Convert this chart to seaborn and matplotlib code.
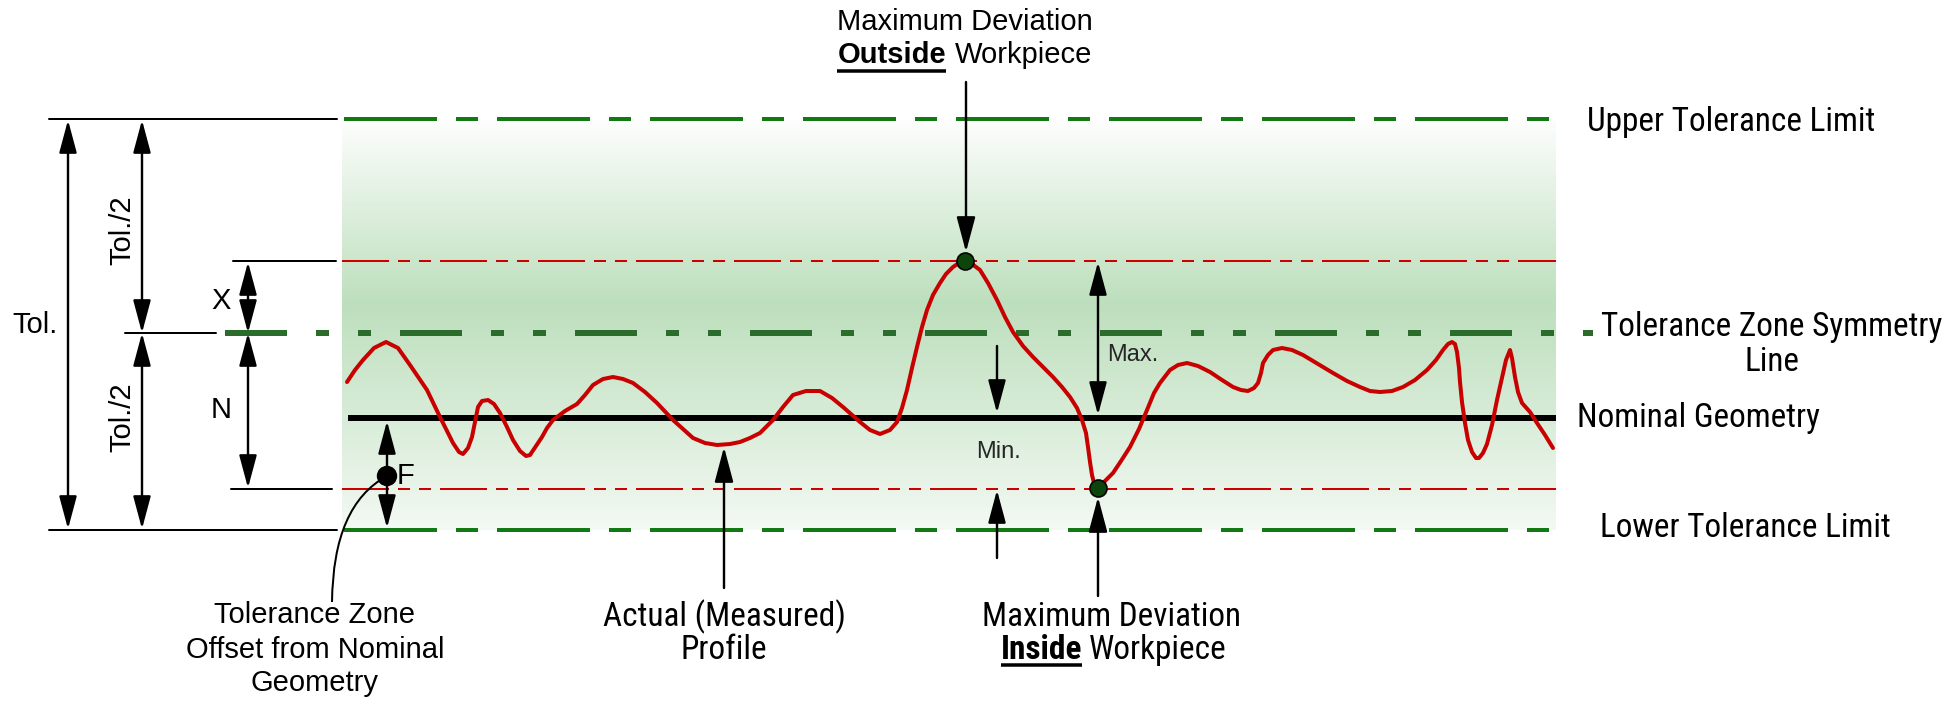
import numpy as np
import matplotlib
matplotlib.use("Agg")
import matplotlib.pyplot as plt
import seaborn as sns
from matplotlib import font_manager
from matplotlib.patches import FancyArrowPatch, ArrowStyle, PathPatch, Circle
from matplotlib.path import Path
from matplotlib.colors import LinearSegmentedColormap

# --- levels of the diagram (in picture pixels, y grows downwards) ---
UPPER_LIMIT = 119
MAX_OUTSIDE = 261
SYMMETRY = 333
NOMINAL = 418
MAX_INSIDE = 489
LOWER_LIMIT = 530
ZONE_LEFT, ZONE_RIGHT = 342, 1556

# measured profile
profile_x = [347, 355, 363, 374, 386, 398, 410, 427, 440, 453, 459, 463, 468, 472, 475, 478, 482, 488,
             494, 500, 507, 513, 520, 526, 530, 536, 542, 547, 553, 565, 577, 585, 593, 603, 613, 623,
             633, 645, 657, 673, 693, 705, 717, 730, 740, 750, 760, 773, 783, 793, 806, 820, 832, 843,
             860, 870, 880, 890, 897, 902, 907, 912, 917, 922, 927, 933, 940, 946, 953, 959, 965, 972,
             980, 988, 997, 1005, 1013, 1023, 1033, 1043, 1053, 1062, 1070, 1077, 1082, 1086, 1088,
             1090, 1092, 1094, 1098, 1105, 1113, 1121, 1130, 1139, 1147, 1154, 1160, 1170, 1178, 1187,
             1198, 1210, 1222, 1233, 1241, 1248, 1254, 1258, 1261, 1263, 1268, 1273, 1282, 1292, 1303,
             1318, 1333, 1347, 1360, 1370, 1380, 1392, 1403, 1415, 1427, 1436, 1443, 1448, 1452, 1455,
             1457, 1459, 1460, 1462, 1465, 1468, 1472, 1476, 1479, 1483, 1487, 1492, 1497, 1502, 1506,
             1510, 1512, 1515, 1518, 1522, 1530, 1537, 1545, 1553]
profile_y = [382, 370, 360, 348, 342, 348, 365, 390, 417, 443, 452, 454, 448, 437, 422, 407, 401, 400,
             404, 413, 427, 440, 451, 456, 455, 446, 437, 428, 420, 411, 404, 395, 385, 379, 377, 379,
             383, 392, 403, 420, 438, 443, 445, 444, 442, 438, 433, 420, 407, 395, 391, 391, 398, 407,
             422, 430, 434, 430, 422, 408, 390, 368, 347, 327, 310, 295, 283, 274, 267, 263, 262, 264,
             270, 283, 300, 317, 332, 346, 357, 367, 377, 387, 397, 408, 420, 433, 447,
             462, 475, 483, 487, 481, 473, 461, 447, 429, 410, 393, 383, 370, 365, 363,
             366, 372, 380, 387, 390, 391, 388, 383, 373, 363, 355, 350, 348, 350, 355,
             364, 373, 381, 387, 391, 392, 391, 387, 380, 370, 360, 350, 344, 342, 344,
             352, 368, 382, 402, 423, 440, 452, 458, 458, 453, 444, 425, 400, 378, 360,
             350, 358, 377, 392, 403, 412, 423, 435, 448]

deviation_points_x = [965, 1098]
deviation_points_y = [MAX_OUTSIDE, MAX_INSIDE - 1]

sns.set_theme(style="white")
plt.rcParams["lines.scale_dashes"] = False
plt.rcParams["font.family"] = ["Liberation Sans", "DejaVu Sans"]

# pick a narrow grotesque for the condensed labels (needs a static bold)
fonts = font_manager.fontManager.ttflist
NARROW = "Liberation Sans"
for cand in ["Liberation Sans Narrow", "Arial Narrow", "Roboto Condensed", "Archivo Narrow",
             "Pragati Narrow", "Barlow Condensed", "PT Sans Narrow", "Asap Condensed"]:
    w = {int(f.weight) if str(f.weight).isdigit() else f.weight for f in fonts
         if f.name == cand and f.style == "normal"}
    if 400 in w and 700 in w:
        NARROW = cand
        break
REG = 21

W, H = 1957, 701
fig = plt.figure(figsize=(W / 100, H / 100), dpi=100)
ax = fig.add_axes([0, 0, 1, 1])
ax.set_xlim(0, W)
ax.set_ylim(H, 0)
ax.axis("off")

# size the narrow font so that its widths match the reference
probe = ax.text(0, 0, "Tolerance Zone Symmetry", fontsize=20, family=NARROW)
fig.canvas.draw()
NSIZE = min(26, 20 * 341 / probe.get_window_extent().width)
probe.remove()


def pt(px):
    return px * 0.72


# green tolerance zone with vertical gradient
cmap = LinearSegmentedColormap.from_list(
    "zone", [(0, "#fdfefd"), (0.45, "#bddfbd"), (1, "#f3f9f3")])
ax.imshow(np.linspace(0, 1, 256).reshape(-1, 1), cmap=cmap, aspect="auto",
          extent=(ZONE_LEFT, ZONE_RIGHT, LOWER_LIMIT, UPPER_LIMIT), zorder=0)

green = "#137a13"
dark_green = "#2b6b2b"
red = "#cc0000"

# tolerance limits
for y in (UPPER_LIMIT, LOWER_LIMIT):
    ax.plot([344, 1558], [y, y], color=green, lw=pt(4),
            dashes=[pt(93), pt(19), pt(22), pt(19)], zorder=2)
# symmetry line
ax.plot([225, 1593], [SYMMETRY, SYMMETRY], color=dark_green, lw=pt(6),
        dashes=[pt(62), pt(29), pt(13), pt(29), pt(13), pt(29)], zorder=2)
# max deviation lines
for y in (MAX_OUTSIDE, MAX_INSIDE):
    ax.plot([ZONE_LEFT, ZONE_RIGHT], [y, y], color=red, lw=pt(2),
            dashes=[pt(47), pt(9), pt(12), pt(9), pt(12), pt(9)], zorder=2)
# nominal geometry
ax.plot([348, ZONE_RIGHT], [NOMINAL, NOMINAL], color="black", lw=pt(6),
        solid_capstyle="butt", zorder=3)

# profile
sns.lineplot(x=profile_x, y=profile_y, sort=False, ax=ax, color="#c80000",
             lw=pt(4), zorder=4)
ax.lines[-1].set_solid_joinstyle("round")

sns.scatterplot(x=deviation_points_x, y=deviation_points_y, ax=ax, s=pt(17) ** 2,
                color="#0c450c", edgecolor="black", linewidth=1.2, zorder=6)
ax.set_xlim(0, W)
ax.set_ylim(H, 0)
ax.axis("off")

# extension lines
for y, x0, x1 in [(UPPER_LIMIT, 49, 337), (LOWER_LIMIT, 49, 337), (SYMMETRY, 125, 216),
                  (MAX_OUTSIDE, 233, 336), (MAX_INSIDE, 231, 332)]:
    ax.plot([x0, x1], [y, y], color="black", lw=pt(2), zorder=3)


def arrow(x, y0, y1, both=False, hl=28, hw=15):
    style = ArrowStyle("<|-|>" if both else "-|>", head_length=pt(hl), head_width=pt(hw / 2))
    ax.add_patch(FancyArrowPatch((x, y0), (x, y1), arrowstyle=style, mutation_scale=1,
                                 lw=pt(2.4), color="black", shrinkA=0, shrinkB=0, zorder=5))


arrow(68, UPPER_LIMIT + 1, LOWER_LIMIT - 1, both=True)
arrow(142, UPPER_LIMIT + 1, SYMMETRY, both=True)
arrow(142, SYMMETRY, LOWER_LIMIT - 1, both=True)
arrow(248, MAX_OUTSIDE + 1, SYMMETRY, both=True)
arrow(248, SYMMETRY, MAX_INSIDE - 1, both=True)
arrow(387, NOMINAL + 3, LOWER_LIMIT - 2, both=True)
arrow(1098, MAX_OUTSIDE + 1, NOMINAL - 3, both=True)
arrow(997, 346, NOMINAL - 5)
arrow(997, 558, MAX_INSIDE + 1)
arrow(966, 82, MAX_OUTSIDE - 9, hl=30, hw=16)
arrow(724, 588, 447, hl=30, hw=16)
arrow(1098, 596, MAX_INSIDE + 8, hl=30, hw=16)

# offset point F and its leader
ax.add_patch(Circle((387, 476), 9.5, color="black", zorder=6))
leader = Path([(387, 476), (333, 505), (332, 602)], [Path.MOVETO, Path.CURVE3, Path.CURVE3])
ax.add_patch(PathPatch(leader, fill=False, lw=pt(2), color="black", zorder=5))

# texts
kw = dict(fontsize=REG, color="black", va="center", zorder=7)
ax.text(35, 325, "Tol.", ha="center", **kw)
ax.text(122, 230, "Tol./2", ha="center", rotation=90, **kw)
ax.text(122, 417, "Tol./2", ha="center", rotation=90, **kw)
ax.text(221, 301, "X", ha="center", **kw)
ax.text(221, 410, "N", ha="center", **kw)
ax.text(397, 476, "F", ha="left", **kw)
ax.text(1107, 355, "Max.", ha="left", fontsize=17, va="center")
ax.text(998, 452, "Min.", ha="center", fontsize=17, va="center")

ax.text(965, 22, "Maximum Deviation", ha="center", **kw)
t_out = ax.text(946, 55, "Outside", ha="right", fontweight="bold", **kw)
ax.text(955, 55, "Workpiece", ha="left", **kw)

for y, s in [(615, "Tolerance Zone"), (650, "Offset from Nominal"), (683, "Geometry")]:
    ax.text(315, y, s, ha="center", **kw)

nkw = dict(fontsize=NSIZE, family=[NARROW, "DejaVu Sans"], color="black", va="center", zorder=7)
ax.text(1587, 122, "Upper Tolerance Limit", ha="left", **nkw)
ax.text(1772, 327, "Tolerance Zone Symmetry", ha="center", **nkw)
ax.text(1772, 362, "Line", ha="center", **nkw)
ax.text(1577, 418, "Nominal Geometry", ha="left", **nkw)
ax.text(1600, 528, "Lower Tolerance Limit", ha="left", **nkw)
ax.text(724, 617, "Actual (Measured)", ha="center", **nkw)
ax.text(724, 650, "Profile", ha="center", **nkw)
ax.text(1111, 617, "Maximum Deviation", ha="center", **nkw)
t_in = ax.text(1082, 650, "Inside", ha="right", fontweight="bold", **nkw)
ax.text(1089, 650, "Workpiece", ha="left", **nkw)

# underline the bold words
fig.canvas.draw()
inv = ax.transData.inverted()
for t, y in [(t_out, 71), (t_in, 665)]:
    bb = t.get_window_extent()
    (xa, _), (xb, _) = inv.transform([(bb.x0, bb.y0), (bb.x1, bb.y1)])
    ax.plot([xa, xb], [y, y], color="black", lw=pt(3.5), solid_capstyle="butt")

fig.savefig("out.png", dpi=100)
